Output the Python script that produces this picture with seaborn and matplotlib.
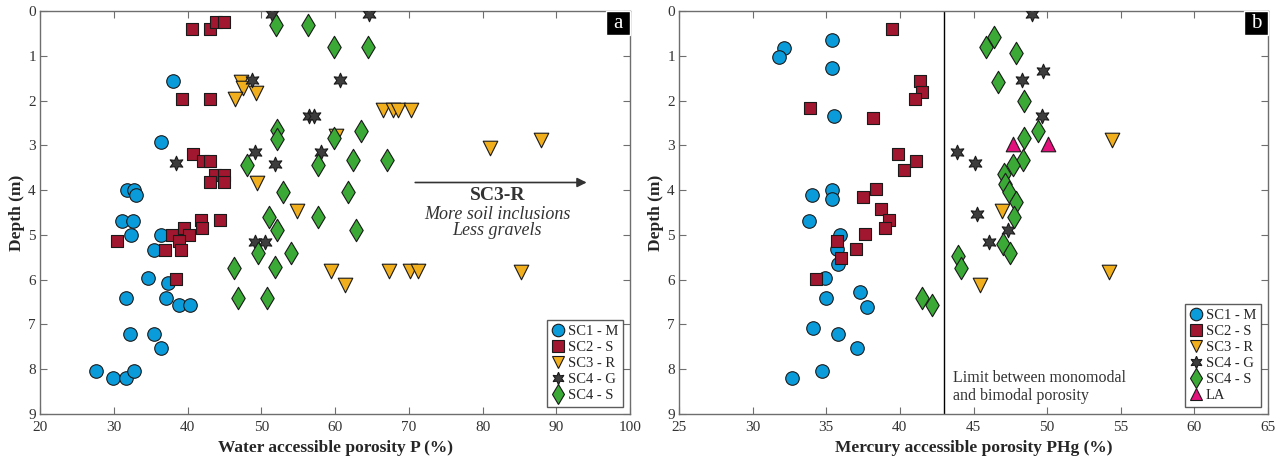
import numpy as np
import pandas as pd
import seaborn as sns
import matplotlib.pyplot as plt
from matplotlib.lines import Line2D
from matplotlib.patches import Rectangle

# ---- panel a : water accessible porosity P (%) vs depth (m)
a_sc1_p = [38.1, 36.4, 31.8, 32.7, 33.0, 31.1, 32.6, 32.3, 36.4, 35.4, 34.6, 37.3,
           31.7, 37.1, 38.8, 40.4, 32.2, 35.5, 36.4, 27.6, 29.9, 31.6, 32.7]
a_sc1_d = [1.56, 2.92, 4.00, 4.00, 4.12, 4.68, 4.68, 5.00, 5.00, 5.33, 5.97, 6.08,
           6.41, 6.41, 6.57, 6.57, 7.21, 7.21, 7.53, 8.04, 8.20, 8.20, 8.04]
a_sc2_p = [40.6, 43.1, 43.8, 45.0, 39.2, 43.1, 40.8, 42.1, 43.0, 43.7, 44.9, 43.0,
           45.0, 41.8, 44.4, 41.9, 30.4, 37.9, 39.5, 40.2, 38.8, 36.9, 39.1, 38.5]
a_sc2_d = [0.40, 0.40, 0.24, 0.24, 1.96, 1.96, 3.20, 3.34, 3.34, 3.67, 3.67, 3.83,
           3.83, 4.67, 4.67, 4.84, 5.14, 5.00, 4.84, 5.00, 5.14, 5.33, 5.33, 5.99]
a_sc3_p = [47.3, 47.5, 49.3, 46.4, 49.4, 66.5, 67.8, 68.5, 70.3, 60.1, 54.8, 59.5,
           61.4, 67.3, 70.2, 71.3, 81.0, 87.9, 85.2]
a_sc3_d = [1.58, 1.73, 1.84, 1.96, 3.85, 2.21, 2.21, 2.21, 2.21, 2.80, 4.46, 5.80,
           6.12, 5.80, 5.80, 5.80, 3.05, 2.88, 5.82]
a_sc4g_p = [48.7, 38.4, 49.2, 49.2, 50.5, 51.4, 64.6, 60.7, 56.5, 57.2, 58.1, 51.9]
a_sc4g_d = [1.54, 3.40, 3.15, 5.15, 5.15, 0.07, 0.07, 1.54, 2.34, 2.34, 3.15, 3.41]
a_sc4s_p = [48.1, 49.5, 46.3, 46.8, 52.0, 56.3, 59.8, 64.5, 52.1, 52.2, 59.8, 63.5,
            57.7, 62.4, 67.05, 53.0, 61.7, 51.1, 57.7, 52.1, 62.9, 54.0, 51.8, 50.8]
a_sc4s_d = [3.45, 5.41, 5.73, 6.41, 0.31, 0.31, 0.80, 0.80, 2.66, 2.86, 2.83, 2.68,
            3.45, 3.33, 3.33, 4.05, 4.05, 4.59, 4.59, 4.89, 4.89, 5.41, 5.72, 6.41]

# ---- panel b : mercury accessible porosity PHg (%) vs depth (m)
b_sc1_p = [35.4, 32.1, 31.8, 35.4, 35.55, 34.0, 35.4, 35.4, 33.8, 35.9, 35.7, 35.8,
           34.9, 35.0, 37.3, 37.8, 34.1, 35.8, 37.1, 34.7, 32.7]
b_sc1_d = [0.65, 0.82, 1.03, 1.27, 2.34, 4.11, 4.00, 4.20, 4.68, 5.00, 5.32, 5.65,
           5.97, 6.41, 6.28, 6.61, 7.08, 7.21, 7.53, 8.03, 8.20]
b_sc2_p = [39.45, 33.9, 38.15, 38.4, 37.5, 38.7, 39.25, 39.0, 37.6, 35.7, 37.0, 36.0,
           34.3, 41.4, 41.5, 41.0, 39.9, 41.1, 40.3]
b_sc2_d = [0.40, 2.16, 2.38, 3.98, 4.16, 4.43, 4.67, 4.84, 4.99, 5.14, 5.32, 5.52,
           5.99, 1.56, 1.81, 1.96, 3.20, 3.34, 3.55]
b_sc3_p = [46.96, 45.44, 54.39, 54.18]
b_sc3_d = [4.46, 6.12, 2.88, 5.82]
b_sc4g_p = [48.97, 49.72, 48.27, 49.65, 43.86, 45.08, 45.26, 47.37, 46.08]
b_sc4g_d = [0.07, 1.35, 1.54, 2.34, 3.15, 3.40, 4.54, 4.90, 5.15]
b_sc4s_p = [46.39, 45.87, 47.87, 46.69, 48.45, 49.38, 48.45, 48.38, 47.66, 47.05,
            47.16, 47.39, 47.87, 47.75, 46.98, 47.48, 43.95, 44.17, 41.48, 42.18]
b_sc4s_d = [0.57, 0.80, 0.94, 1.59, 2.01, 2.68, 2.83, 3.33, 3.45, 3.64,
            3.86, 4.05, 4.27, 4.61, 5.21, 5.41, 5.48, 5.73, 6.40, 6.57]
b_la_p = [47.66, 50.08]
b_la_d = [2.97, 2.97]

colors = {'SC1 - M': '#0a9bdb', 'SC2 - S': '#a1172f', 'SC3 - R': '#f1ae1d',
          'SC4 - G': '#3d3d3d', 'SC4 - S': '#3aa935', 'LA': '#e4117d'}
markers = {'SC1 - M': 'o', 'SC2 - S': 's', 'SC3 - R': 'v',
           'SC4 - G': (6, 1, 0), 'SC4 - S': 'd', 'LA': '^'}
sizes = {'SC1 - M': 95, 'SC2 - S': 70, 'SC3 - R': 110,
         'SC4 - G': 110, 'SC4 - S': 130, 'LA': 110}

panel_a = {'SC1 - M': (a_sc1_p, a_sc1_d), 'SC2 - S': (a_sc2_p, a_sc2_d),
           'SC3 - R': (a_sc3_p, a_sc3_d), 'SC4 - G': (a_sc4g_p, a_sc4g_d),
           'SC4 - S': (a_sc4s_p, a_sc4s_d)}
panel_b = {'SC1 - M': (b_sc1_p, b_sc1_d), 'SC2 - S': (b_sc2_p, b_sc2_d),
           'SC3 - R': (b_sc3_p, b_sc3_d), 'SC4 - G': (b_sc4g_p, b_sc4g_d),
           'SC4 - S': (b_sc4s_p, b_sc4s_d), 'LA': (b_la_p, b_la_d)}

sns.set_theme(style='ticks')
plt.rcParams['font.family'] = ['Liberation Serif', 'DejaVu Serif']
plt.rcParams['axes.edgecolor'] = '#6e6e6e'
plt.rcParams['xtick.color'] = '#6e6e6e'
plt.rcParams['ytick.color'] = '#6e6e6e'
plt.rcParams['xtick.labelcolor'] = '#333333'
plt.rcParams['ytick.labelcolor'] = '#333333'

fig = plt.figure(figsize=(12.81, 4.59), dpi=100)
W, H = 1281, 459
ax1 = fig.add_axes([40 / W, 45 / H, 590 / W, 403 / H])
ax2 = fig.add_axes([679 / W, 45 / H, 589 / W, 403 / H])


def draw_panel(ax, groups):
    for name, (p, d) in groups.items():
        df = pd.DataFrame({'p': p, 'depth': d})
        sns.scatterplot(data=df, x='p', y='depth', ax=ax, marker=markers[name],
                        s=sizes[name], color=colors[name], edgecolor='#1a1a1a',
                        linewidth=0.8, zorder=3, legend=False)
    ax.set_ylim(9, 0)
    ax.set_yticks(range(0, 10))
    ax.set_ylabel('Depth (m)', fontsize=12.5, fontweight='bold', labelpad=2)
    ax.tick_params(direction='in', top=True, right=True, length=5, width=0.8,
                   labelsize=11)
    ax.tick_params(axis='x', pad=5)
    ax.tick_params(axis='y', pad=3)
    for sp in ax.spines.values():
        sp.set_linewidth(1.0)
    handles = [Line2D([], [], linestyle='none', marker=markers[n],
                      markersize=9 if n != 'SC4 - S' else 10.5,
                      markerfacecolor=colors[n], markeredgecolor='#1a1a1a', markeredgewidth=0.8)
               for n in groups]
    leg = ax.legend(handles, list(groups), loc='lower right', fontsize=10.5,
                    frameon=True, fancybox=False, handletextpad=0.15, handlelength=1.0,
                    borderpad=0.3, labelspacing=0.2, borderaxespad=0.5)
    leg.get_frame().set_edgecolor('#333333')
    leg.get_frame().set_linewidth(1.0)


def panel_tag(ax, letter):
    ax.add_patch(Rectangle((1 - 24 / 589, 1 - 24 / 403), 24 / 589, 24 / 403,
                           transform=ax.transAxes, facecolor='black', zorder=5, clip_on=False))
    ax.text(1 - 12 / 589, 1 - 12 / 403, letter, transform=ax.transAxes, color='white',
            fontsize=15, ha='center', va='center', zorder=6)


draw_panel(ax1, panel_a)
ax1.set_xlim(20, 100)
ax1.set_xticks(range(20, 101, 10))
ax1.set_xlabel('Water accessible porosity P (%)', fontsize=12.5, fontweight='bold', labelpad=4)
ax1.annotate('', xy=(94.5, 3.83), xytext=(70.5, 3.83),
             arrowprops=dict(arrowstyle='-|>', color='#333333', lw=1.2, mutation_scale=14))
ax1.text(82, 4.12, 'SC3-R', fontsize=14, fontweight='bold', ha='center', va='center', color='#333333')
ax1.text(82, 4.54, 'More soil inclusions', fontsize=13, style='italic', ha='center', va='center', color='#333333')
ax1.text(82, 4.91, 'Less gravels', fontsize=13, style='italic', ha='center', va='center', color='#333333')
panel_tag(ax1, 'a')

draw_panel(ax2, panel_b)
ax2.set_xlim(25, 65)
ax2.set_xticks(range(25, 66, 5))
ax2.set_xlabel('Mercury accessible porosity PHg (%)', fontsize=12.5, fontweight='bold', labelpad=4)
ax2.axvline(43, color='black', lw=1.0, zorder=1)
ax2.text(43.6, 8.39, 'Limit between monomodal\nand bimodal porosity', fontsize=11.5,
         ha='left', va='center', color='#333333', linespacing=1.15)
panel_tag(ax2, 'b')

fig.savefig('out.png', dpi=100)
